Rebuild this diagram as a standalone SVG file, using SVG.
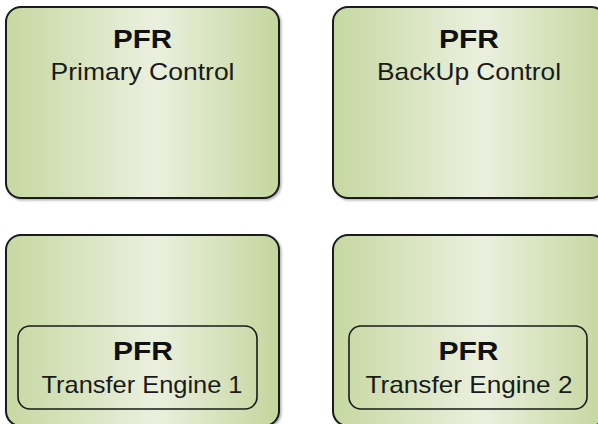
<svg xmlns="http://www.w3.org/2000/svg" width="598" height="424" viewBox="0 0 598 424">
<defs>
<linearGradient id="g" x1="0" y1="0" x2="1" y2="0">
<stop offset="0" stop-color="#c6d8a2"/>
<stop offset="0.55" stop-color="#ebf0de"/>
<stop offset="1" stop-color="#c4d69e"/>
</linearGradient>
<filter id="sh" x="-5%" y="-5%" width="115%" height="115%">
<feDropShadow dx="1.5" dy="1.5" stdDeviation="1" flood-color="#000" flood-opacity="0.3"/>
</filter>
</defs>
<style>
.outer{fill:url(#g);stroke:#1a1a1a;stroke-width:2;filter:url(#sh)}
.inner{fill:none;stroke:#1a1a1a;stroke-width:1.6}
.t1{font-family:"Liberation Sans",Arial,sans-serif;font-weight:bold;font-size:26px;fill:#111;text-anchor:middle}
.t2{font-family:"Liberation Sans",Arial,sans-serif;font-size:24px;fill:#1a1a1a;text-anchor:middle}
</style>
<rect width="598" height="424" fill="#ffffff"/>
<g id="primary">
<rect class="outer" x="6" y="7" width="273" height="191" rx="15"/>
<text class="t1" x="142.5" y="48" textLength="59" lengthAdjust="spacingAndGlyphs">PFR</text>
<text class="t2" x="142.5" y="80" textLength="184" lengthAdjust="spacingAndGlyphs">Primary Control</text>
</g>
<g id="backup">
<rect class="outer" x="333" y="7" width="273" height="191" rx="15"/>
<text class="t1" x="469" y="48" textLength="60" lengthAdjust="spacingAndGlyphs">PFR</text>
<text class="t2" x="469" y="80" textLength="184" lengthAdjust="spacingAndGlyphs">BackUp Control</text>
</g>
<g id="engine1">
<rect class="outer" x="6" y="235" width="273" height="191" rx="15"/>
<rect class="inner" x="18" y="326" width="239" height="83" rx="12"/>
<text class="t1" x="143" y="360" textLength="60" lengthAdjust="spacingAndGlyphs">PFR</text>
<text class="t2" x="142" y="393" textLength="201" lengthAdjust="spacingAndGlyphs">Transfer Engine 1</text>
</g>
<g id="engine2">
<rect class="outer" x="333" y="235" width="273" height="191" rx="15"/>
<rect class="inner" x="349" y="326" width="238" height="83" rx="12"/>
<text class="t1" x="468.5" y="360" textLength="60" lengthAdjust="spacingAndGlyphs">PFR</text>
<text class="t2" x="469" y="393" textLength="207" lengthAdjust="spacingAndGlyphs">Transfer Engine 2</text>
</g>
<g id="connectors"></g>
</svg>
